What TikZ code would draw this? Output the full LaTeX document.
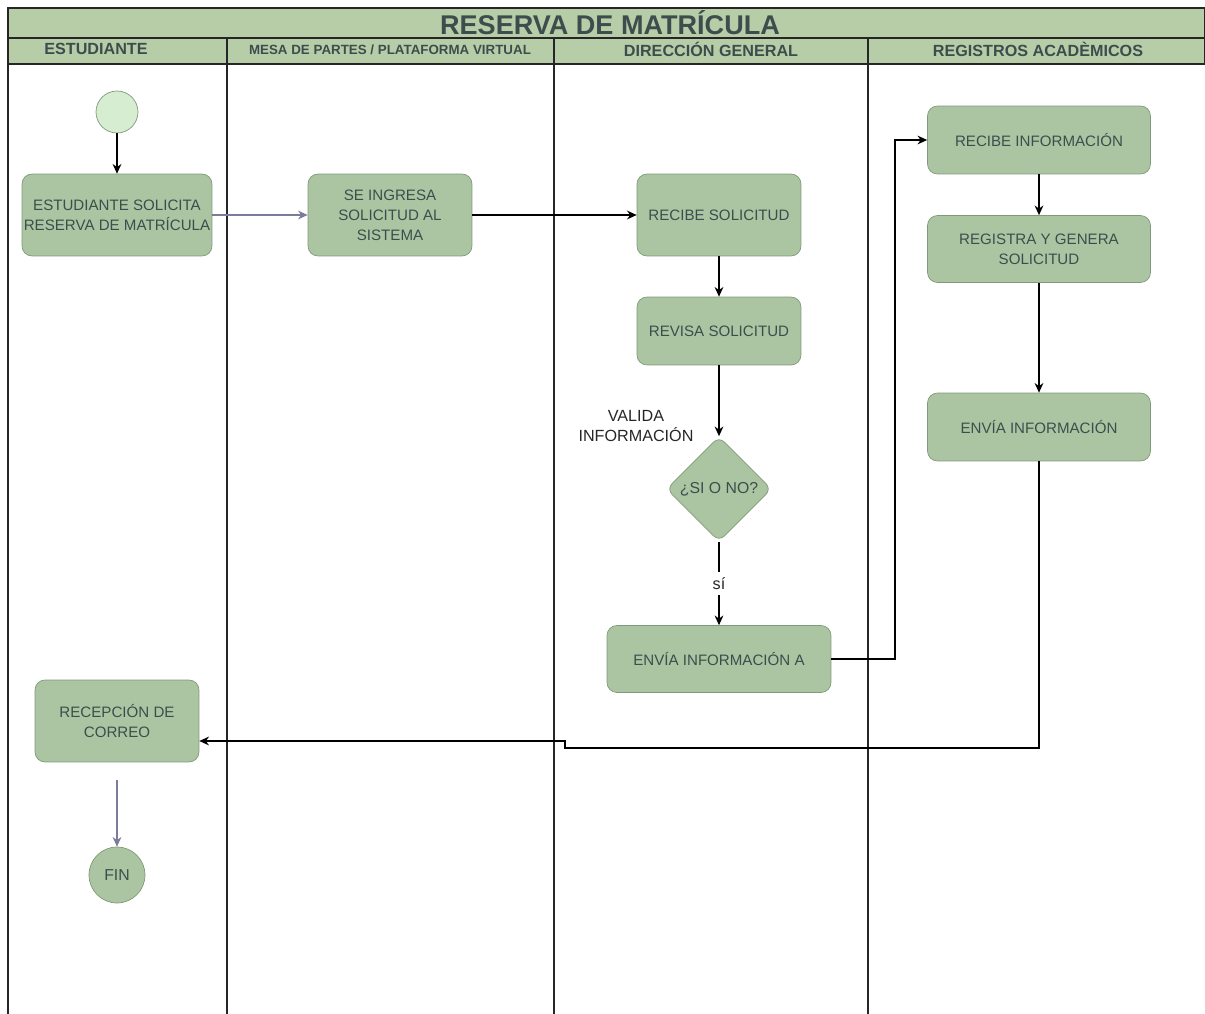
\documentclass[tikz,border=0pt]{standalone}
\usepackage{fontspec}
\setmainfont{Liberation Sans}
\usetikzlibrary{shapes.geometric, arrows.meta, positioning}
\definecolor{sage}{HTML}{ABC5A2}
\definecolor{sageline}{HTML}{7F9A7A}
\definecolor{titlebg}{HTML}{B7CDA7}
\definecolor{inktext}{HTML}{3D4D4D}
\definecolor{startfill}{HTML}{D6EDD2}
\definecolor{softarrow}{HTML}{7B7B9B}
\tikzstyle{task} = [rectangle, rounded corners=0.2cm, text centered, align=center, draw=sageline, fill=sage, text=inktext, font=\fontsize{8.6}{11.4}\selectfont]
\tikzstyle{decision} = [diamond, rounded corners=0.15cm, minimum width=2.1cm, minimum height=2.1cm, inner sep=0pt, draw=sageline, fill=sage, text=inktext, font=\fontsize{9}{11}\selectfont]
\tikzstyle{startstate} = [circle, minimum size=0.84cm, draw=sageline, fill=startfill]
\tikzstyle{endstate} = [circle, minimum size=1.12cm, draw=sageline, fill=sage, text=inktext, font=\fontsize{9}{11}\selectfont]
\tikzstyle{lane} = [line width=0.9pt, draw=black!85]
\tikzstyle{lanehead} = [text=inktext, font=\bfseries\fontsize{9.2}{11}\selectfont]
\tikzstyle{arrow} = [line width=0.85pt, -{Stealth[length=5.5pt, width=5pt]}]
\tikzstyle{softline} = [line width=0.85pt, -{Stealth[length=5.5pt, width=5pt]}, draw=softarrow]
\begin{document}
\begin{tikzpicture}[x=0.02cm, y=-0.02cm]
\useasboundingbox (0,0) rectangle (1205,1014);
% Pool and lanes
\draw [lane, fill=titlebg] (8,8) rectangle (1205,38);
\draw [lane, fill=titlebg] (8,38) rectangle (1205,64);
\node (title) [text=inktext, font=\bfseries\fontsize{15.4}{18}\selectfont] at (610,23) {RESERVA DE MATRÍCULA};
\node (hEst) [lanehead] at (96,49) {ESTUDIANTE};
\node (hMesa) [lanehead, font=\bfseries\fontsize{7.6}{9}\selectfont] at (390,50) {MESA DE PARTES / PLATAFORMA VIRTUAL};
\node (hDir) [lanehead] at (711,49) {DIRECCIÓN GENERAL};
\node (hReg) [lanehead] at (1038,49) {REGISTROS ACADÈMICOS};
\draw [lane] (8,38) -- (8,1014);
\draw [lane] (227,38) -- (227,1014);
\draw [lane] (554,38) -- (554,1014);
\draw [lane] (868,38) -- (868,1014);
% Define nodes
\node (start) [startstate] at (117,112) {};
\node (solicita) [task, inner xsep=1pt, minimum width=3.8cm, minimum height=1.64cm] at (117,215) {ESTUDIANTE SOLICITA\\RESERVA DE MATRÍCULA};
\node (ingresa) [task, minimum width=3.28cm, minimum height=1.64cm] at (390,215) {SE INGRESA\\SOLICITUD AL\\SISTEMA};
\node (recibeSol) [task, minimum width=3.28cm, minimum height=1.64cm] at (719,215) {RECIBE SOLICITUD};
\node (revisa) [task, minimum width=3.28cm, minimum height=1.36cm] at (719,331) {REVISA SOLICITUD};
\node (valida) [decision] at (719,489) {¿SI O NO?};
\node (validaLbl) [text=black!85, align=center, font=\fontsize{9.2}{11.6}\selectfont] at (636,426) {VALIDA\\INFORMACIÓN};
\node (enviaA) [task, minimum width=4.48cm, minimum height=1.34cm] at (719,659) {ENVÍA INFORMACIÓN A};
\node (recibeInf) [task, minimum width=4.46cm, minimum height=1.36cm] at (1039,140) {RECIBE INFORMACIÓN};
\node (registra) [task, minimum width=4.46cm, minimum height=1.34cm] at (1039,249) {REGISTRA Y GENERA\\SOLICITUD};
\node (enviaInf) [task, minimum width=4.46cm, minimum height=1.36cm] at (1039,427) {ENVÍA INFORMACIÓN};
\node (recepcion) [task, minimum width=3.28cm, minimum height=1.64cm] at (117,721) {RECEPCIÓN DE\\CORREO};
\node (fin) [endstate] at (117,875) {FIN};
\coordinate (finTop) at (117,780);
% Connect nodes with arrows
\draw [arrow] (start) -- (solicita);
\draw [softline] (solicita) -- (ingresa);
\draw [arrow] (ingresa) -- (recibeSol);
\draw [arrow] (recibeSol) -- (revisa);
\draw [arrow] (revisa) -- (valida);
\draw [arrow] (valida) -- node [fill=white, text=black!85, font=\fontsize{9.2}{11}\selectfont, inner sep=3pt] {sí} (enviaA);
\draw [arrow] (enviaA.east) -| (895,140) -- (recibeInf.west);
\draw [arrow] (recibeInf) -- (registra);
\draw [arrow] (registra) -- (enviaInf);
\draw [arrow] (enviaInf.south) -- (1039,748) -- (565,748) -- (565,741) -- (recepcion.east |- 0,741);
\draw [softline] (finTop) -- (fin);
\end{tikzpicture}
\end{document}
